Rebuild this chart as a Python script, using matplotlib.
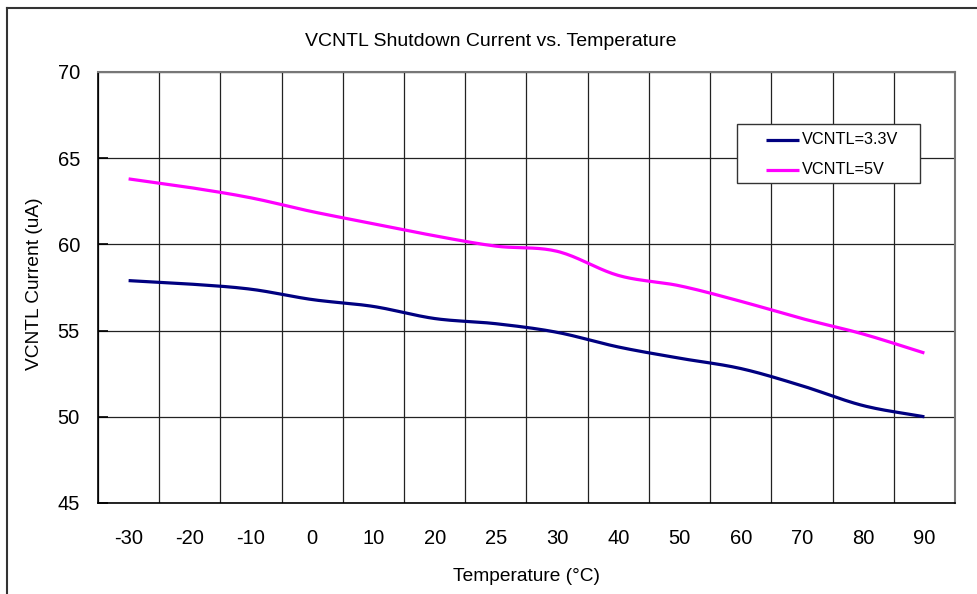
import numpy as np
import matplotlib
matplotlib.use("Agg")
import matplotlib.pyplot as plt
from matplotlib.lines import Line2D
from matplotlib.patches import Rectangle

temps = ["-30", "-20", "-10", "0", "10", "20", "25", "30", "40", "50", "60", "70", "80", "90"]
vcntl_33 = [57.9, 57.7, 57.4, 56.8, 56.4, 55.7, 55.4, 54.9, 54.05, 53.4, 52.8, 51.8, 50.65, 50.0]
vcntl_5 = [63.8, 63.3, 62.7, 61.9, 61.2, 60.5, 59.9, 59.6, 58.2, 57.6, 56.7, 55.7, 54.8, 53.7]
series_names = ["VCNTL=3.3V", "VCNTL=5V"]
colors = ["#000080", "#FF00FF"]
y_ticks = [45, 50, 55, 60, 65, 70]

plt.rcParams["font.family"] = ["Liberation Sans", "DejaVu Sans"]

W, H = 977, 594


def smooth(x, y, n=20):
    # Catmull-Rom style smoothing, like the spreadsheet's "smoothed line"
    x = np.asarray(x, float)
    y = np.asarray(y, float)
    px = np.concatenate([[2 * x[0] - x[1]], x, [2 * x[-1] - x[-2]]])
    py = np.concatenate([[2 * y[0] - y[1]], y, [2 * y[-1] - y[-2]]])
    xs, ys = [], []
    t = np.linspace(0, 1, n, endpoint=False)
    for i in range(1, len(px) - 2):
        for arr, p in ((ys, py), (xs, px)):
            a0, a1, a2, a3 = p[i - 1], p[i], p[i + 1], p[i + 2]
            arr.extend(0.5 * ((2 * a1) + (-a0 + a2) * t
                              + (2 * a0 - 5 * a1 + 4 * a2 - a3) * t ** 2
                              + (-a0 + 3 * a1 - 3 * a2 + a3) * t ** 3))
    xs.append(x[-1])
    ys.append(y[-1])
    return np.array(xs), np.array(ys)


def fx(px):
    return px / W


def fy(py):
    return 1 - py / H


fig = plt.figure(figsize=(W / 100, H / 100), dpi=100)
ax = fig.add_axes([fx(98), fy(503), (955 - 98) / W, (503 - 72) / H])

idx = np.arange(len(temps))
for vals, color, name in zip((vcntl_33, vcntl_5), colors, series_names):
    sx, sy = smooth(idx, vals)
    ax.plot(sx, sy, color=color, lw=2.3, solid_capstyle="butt", label=name, zorder=3)

ax.set_xlim(-0.5, len(temps) - 0.5)
ax.set_ylim(45, 70)
ax.set_yticks(y_ticks)
ax.set_xticks(idx)
ax.set_xticklabels(temps)
ax.set_xticks(np.arange(len(temps) + 1) - 0.5, minor=True)
ax.grid(True, which="minor", axis="x", color="#222222", lw=0.9)
ax.grid(True, which="major", axis="y", color="#222222", lw=0.9)
ax.tick_params(axis="x", which="both", length=0, labelsize=14.5, pad=19)
ax.tick_params(axis="y", direction="in", length=7, width=1.2, labelsize=14.5, pad=13)
for side in ["left", "bottom"]:
    ax.spines[side].set_linewidth(1.2)
for side in ["top", "right"]:
    ax.spines[side].set_color("#777777")
    ax.spines[side].set_linewidth(1.5)

ax.set_xlabel("Temperature (°C)", fontsize=13.8)
ax.set_ylabel("VCNTL Current (uA)", fontsize=13.8)
ax.xaxis.set_label_coords(0.4995, -0.150)
ax.yaxis.set_label_coords(-0.064, 0.510)
fig.text(fx(491), fy(41), "VCNTL Shutdown Current vs. Temperature", ha="center", va="center", fontsize=14)

# legend box drawn to match the spreadsheet layout
fig.add_artist(Rectangle((fx(737), fy(183)), (920 - 737) / W, (183 - 124) / H, transform=fig.transFigure,
                         facecolor="white", edgecolor="#333333", lw=1.0, zorder=5))
for k, (name, color) in enumerate(zip(series_names, colors)):
    yy = fy(139.5 + 30 * k)
    fig.add_artist(Line2D([fx(766), fx(799)], [yy, yy], transform=fig.transFigure, color=color,
                          lw=2.3, solid_capstyle="butt", zorder=6))
    fig.text(fx(802), yy, name, ha="left", va="center", fontsize=11.7, zorder=6)

# chart area border (left and top edges visible)
fig.add_artist(Line2D([fx(7), fx(7)], [0, fy(8)], transform=fig.transFigure, color="#333333", lw=1.5))
fig.add_artist(Line2D([fx(7), 1], [fy(8), fy(8)], transform=fig.transFigure, color="#333333", lw=1.5))

fig.savefig("out.png", dpi=100)
